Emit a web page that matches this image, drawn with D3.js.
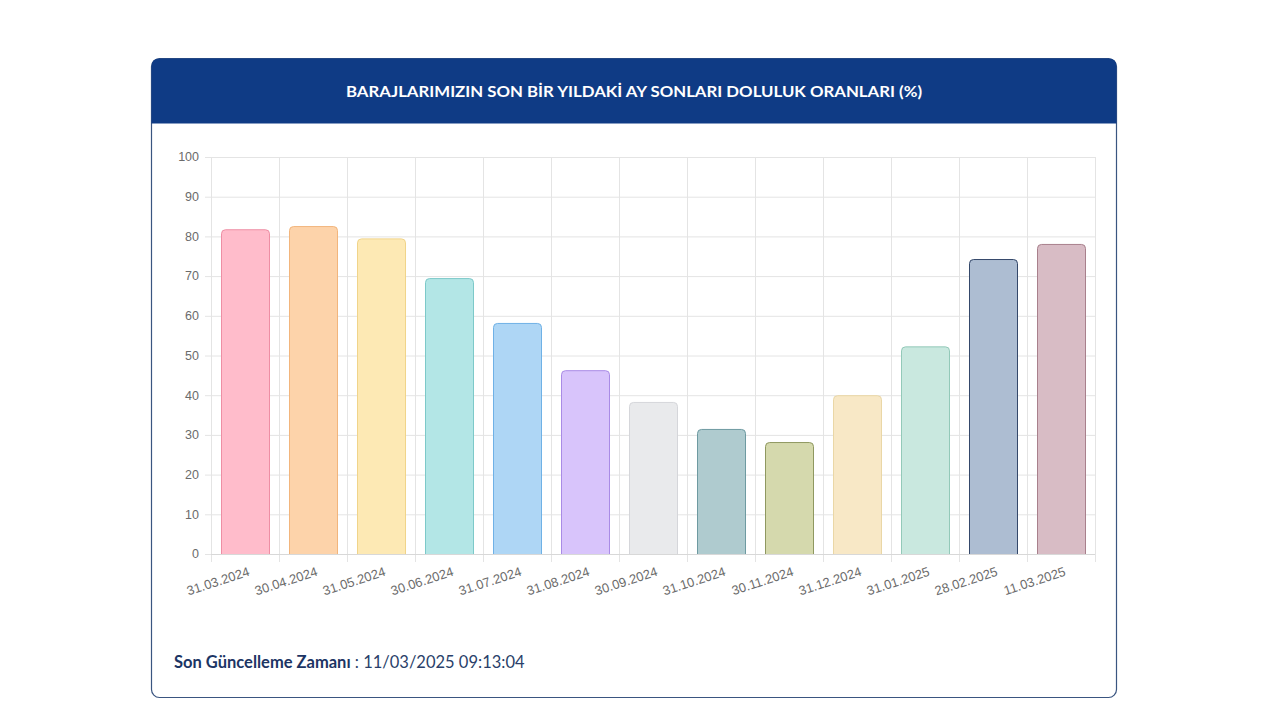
<!DOCTYPE html>
<html><head><meta charset="utf-8">
<script src="https://cdn.jsdelivr.net/npm/d3@7"></script>
<style>
html,body{margin:0;padding:0;background:#fff;}
svg{display:block;}
</style></head>
<body>
<svg id="c" width="1280" height="720"></svg>
<script>
const categories = ["31.03.2024","30.04.2024","31.05.2024","30.06.2024","31.07.2024","31.08.2024","30.09.2024","31.10.2024","30.11.2024","31.12.2024","31.01.2025","28.02.2025","11.03.2025"];
const values = [81.8, 82.6, 79.5, 69.5, 58.2, 46.3, 38.3, 31.5, 28.2, 40.0, 52.3, 74.3, 78.1];
const fillColors = ["#ffbccb","#fdd3aa","#fde9b4","#b3e6e6","#aed6f5","#d8c4fb","#e9eaec","#afcbcf","#d5d9ad","#f8e8c6","#c9e8df","#adbdd2","#d8bcc5"];
const borderColors = ["#ee8ea4","#f2b57c","#f0d48a","#7dc9c9","#6fb1e6","#a98be6","#d5d6da","#6e9aa1","#8f9860","#ead7a6","#93c9b9","#34486a","#a8808c"];
const yTicks = [0,10,20,30,40,50,60,70,80,90,100];
const title = "BARAJLARIMIZIN SON BİR YILDAKİ AY SONLARI DOLULUK ORANLARI (%)";
const footerLabel = "Son Güncelleme Zamanı";
const footerValue = " : 11/03/2025 09:13:04";

(function(){
const svg = d3.select("#c");
const cx = 151.5, cy = 58.5, cw = 965, ch = 639;
svg.append("rect").attr("x",cx).attr("y",cy).attr("width",cw).attr("height",ch)
  .attr("rx",8).attr("fill","#fff").attr("stroke","#3a5580").attr("stroke-width",1.2);
const hh = 65;
svg.append("path")
  .attr("d",`M${cx},${cy+hh} L${cx},${cy+8} Q${cx},${cy} ${cx+8},${cy} L${cx+cw-8},${cy} Q${cx+cw},${cy} ${cx+cw},${cy+8} L${cx+cw},${cy+hh} Z`)
  .attr("fill","#0f3b85");
svg.append("text").attr("x",634).attr("y",97).attr("text-anchor","middle")
  .attr("fill","#fff").attr("font-family","Lato, 'Open Sans', sans-serif").attr("font-weight","bold")
  .attr("font-size","15px").attr("textLength",576).attr("lengthAdjust","spacingAndGlyphs").text(title);

const pL = 211, pR = 1095, pT = 157, pB = 554;
const x = d3.scaleBand().domain(categories).range([pL,pR]).paddingInner(0).paddingOuter(0);
const y = d3.scaleLinear().domain([0,100]).range([pB,pT]);
const gridColor = "#e4e4e4";

svg.append("g").selectAll("line").data(yTicks).join("line")
  .attr("x1",pL-6).attr("x2",pR).attr("y1",d=>y(d)+0.5).attr("y2",d=>y(d)+0.5)
  .attr("stroke",gridColor).attr("stroke-width",1);
const bounds = categories.map(c=>x(c)).concat([pR]);
svg.append("g").selectAll("line").data(bounds).join("line")
  .attr("x1",d=>Math.round(d)+0.5).attr("x2",d=>Math.round(d)+0.5).attr("y1",pT).attr("y2",pB+8)
  .attr("stroke",gridColor).attr("stroke-width",1);

svg.append("g").selectAll("text").data(yTicks).join("text")
  .attr("x",pL-12).attr("y",d=>y(d)).attr("dy","0.35em").attr("text-anchor","end")
  .attr("fill","#6b6b6b").attr("font-family","'Liberation Sans', Arial, sans-serif").attr("font-size","12.5px")
  .text(d=>d);

const bw = 48;
svg.append("g").selectAll("path").data(values).join("path")
  .attr("d",(d,i)=>{
    const x0 = x(categories[i]) + (x.bandwidth()-bw)/2 + 0.5, x1 = x0+bw, y0 = y(d)+0.5, yb = y(0);
    const r = 4;
    return `M${x0},${yb} L${x0},${y0+r} Q${x0},${y0} ${x0+r},${y0} L${x1-r},${y0} Q${x1},${y0} ${x1},${y0+r} L${x1},${yb}`;
  })
  .attr("fill",(d,i)=>fillColors[i]).attr("stroke",(d,i)=>borderColors[i]).attr("stroke-width",1);

svg.append("line").attr("x1",pL).attr("x2",pR).attr("y1",pB+0.5).attr("y2",pB+0.5)
  .attr("stroke","#d8d8d8");

svg.append("g").selectAll("text").data(categories).join("text")
  .attr("transform",c=>`translate(${x(c)+x.bandwidth()/2+4},${pB+17}) rotate(-18)`)
  .attr("text-anchor","end").attr("dy","0.35em")
  .attr("fill","#6b6b6b").attr("font-family","'Liberation Sans', Arial, sans-serif").attr("font-size","13px")
  .text(c=>c);

const ft = svg.append("text").attr("x",174).attr("y",668)
  .attr("font-family","Lato, 'Open Sans', sans-serif").attr("font-size","16.5px").attr("fill","#1c3564");
ft.append("tspan").attr("font-weight","bold").text(footerLabel);
ft.append("tspan").attr("fill","#2a3f6a").text(footerValue);
})();
</script>
</body></html>
